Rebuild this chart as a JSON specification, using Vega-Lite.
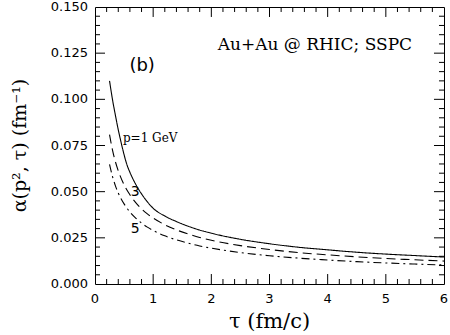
{
  "$schema": "https://vega.github.io/schema/vega-lite/v6.json",
  "width": 349,
  "height": 277,
  "autosize": {"type": "none"},
  "padding": {"left": 95, "top": 7, "right": 6, "bottom": 51},
  "background": "white",
  "config": {
    "view": {"stroke": "black", "strokeWidth": 1}
  },
  "datasets": {
    "curves": [
      {"p": "1", "tau": 0.25, "alpha": 0.110},
      {"p": "1", "tau": 0.30, "alpha": 0.100},
      {"p": "1", "tau": 0.35, "alpha": 0.0915},
      {"p": "1", "tau": 0.40, "alpha": 0.0835},
      {"p": "1", "tau": 0.45, "alpha": 0.0765},
      {"p": "1", "tau": 0.50, "alpha": 0.0700},
      {"p": "1", "tau": 0.55, "alpha": 0.0645},
      {"p": "1", "tau": 0.60, "alpha": 0.0605},
      {"p": "1", "tau": 0.70, "alpha": 0.0540},
      {"p": "1", "tau": 0.80, "alpha": 0.0488},
      {"p": "1", "tau": 0.90, "alpha": 0.0445},
      {"p": "1", "tau": 1.0, "alpha": 0.0410},
      {"p": "1", "tau": 1.2, "alpha": 0.0368},
      {"p": "1", "tau": 1.4, "alpha": 0.0338},
      {"p": "1", "tau": 1.6, "alpha": 0.0313},
      {"p": "1", "tau": 1.8, "alpha": 0.0292},
      {"p": "1", "tau": 2.0, "alpha": 0.0275},
      {"p": "1", "tau": 2.5, "alpha": 0.0242},
      {"p": "1", "tau": 3.0, "alpha": 0.0218},
      {"p": "1", "tau": 3.5, "alpha": 0.0199},
      {"p": "1", "tau": 4.0, "alpha": 0.0185},
      {"p": "1", "tau": 4.5, "alpha": 0.0172},
      {"p": "1", "tau": 5.0, "alpha": 0.0162},
      {"p": "1", "tau": 5.5, "alpha": 0.0154},
      {"p": "1", "tau": 6.0, "alpha": 0.0146},
      {"p": "3", "tau": 0.25, "alpha": 0.0809},
      {"p": "3", "tau": 0.30, "alpha": 0.0726},
      {"p": "3", "tau": 0.35, "alpha": 0.0663},
      {"p": "3", "tau": 0.40, "alpha": 0.0613},
      {"p": "3", "tau": 0.50, "alpha": 0.0537},
      {"p": "3", "tau": 0.60, "alpha": 0.0483},
      {"p": "3", "tau": 0.70, "alpha": 0.0441},
      {"p": "3", "tau": 0.80, "alpha": 0.0407},
      {"p": "3", "tau": 0.90, "alpha": 0.0380},
      {"p": "3", "tau": 1.0, "alpha": 0.0357},
      {"p": "3", "tau": 1.2, "alpha": 0.0321},
      {"p": "3", "tau": 1.4, "alpha": 0.0293},
      {"p": "3", "tau": 1.6, "alpha": 0.0271},
      {"p": "3", "tau": 1.8, "alpha": 0.0252},
      {"p": "3", "tau": 2.0, "alpha": 0.0237},
      {"p": "3", "tau": 2.5, "alpha": 0.0208},
      {"p": "3", "tau": 3.0, "alpha": 0.0187},
      {"p": "3", "tau": 3.5, "alpha": 0.0170},
      {"p": "3", "tau": 4.0, "alpha": 0.0158},
      {"p": "3", "tau": 4.5, "alpha": 0.0147},
      {"p": "3", "tau": 5.0, "alpha": 0.0138},
      {"p": "3", "tau": 5.5, "alpha": 0.0131},
      {"p": "3", "tau": 6.0, "alpha": 0.0124},
      {"p": "5", "tau": 0.25, "alpha": 0.0648},
      {"p": "5", "tau": 0.30, "alpha": 0.0583},
      {"p": "5", "tau": 0.35, "alpha": 0.0533},
      {"p": "5", "tau": 0.40, "alpha": 0.0493},
      {"p": "5", "tau": 0.50, "alpha": 0.0434},
      {"p": "5", "tau": 0.60, "alpha": 0.0390},
      {"p": "5", "tau": 0.70, "alpha": 0.0357},
      {"p": "5", "tau": 0.80, "alpha": 0.0330},
      {"p": "5", "tau": 0.90, "alpha": 0.0308},
      {"p": "5", "tau": 1.0, "alpha": 0.0290},
      {"p": "5", "tau": 1.2, "alpha": 0.0261},
      {"p": "5", "tau": 1.4, "alpha": 0.0239},
      {"p": "5", "tau": 1.6, "alpha": 0.0221},
      {"p": "5", "tau": 1.8, "alpha": 0.0206},
      {"p": "5", "tau": 2.0, "alpha": 0.0194},
      {"p": "5", "tau": 2.5, "alpha": 0.0170},
      {"p": "5", "tau": 3.0, "alpha": 0.0153},
      {"p": "5", "tau": 3.5, "alpha": 0.0140},
      {"p": "5", "tau": 4.0, "alpha": 0.0130},
      {"p": "5", "tau": 4.5, "alpha": 0.0121},
      {"p": "5", "tau": 5.0, "alpha": 0.0114},
      {"p": "5", "tau": 5.5, "alpha": 0.0108},
      {"p": "5", "tau": 6.0, "alpha": 0.0103}
    ],
    "xmajor": [{"t": 1}, {"t": 2}, {"t": 3}, {"t": 4}, {"t": 5}],
    "xminor": [{"t": 0.2}, {"t": 0.4}, {"t": 0.6}, {"t": 0.8}, {"t": 1.2}, {"t": 1.4}, {"t": 1.6}, {"t": 1.8}, {"t": 2.2}, {"t": 2.4}, {"t": 2.6}, {"t": 2.8}, {"t": 3.2}, {"t": 3.4}, {"t": 3.6}, {"t": 3.8}, {"t": 4.2}, {"t": 4.4}, {"t": 4.6}, {"t": 4.8}, {"t": 5.2}, {"t": 5.4}, {"t": 5.6}, {"t": 5.8}],
    "ymajor": [{"t": 0.025}, {"t": 0.05}, {"t": 0.075}, {"t": 0.1}, {"t": 0.125}],
    "yminor": [{"t": 0.005}, {"t": 0.01}, {"t": 0.015}, {"t": 0.02}, {"t": 0.03}, {"t": 0.035}, {"t": 0.04}, {"t": 0.045}, {"t": 0.055}, {"t": 0.06}, {"t": 0.065}, {"t": 0.07}, {"t": 0.08}, {"t": 0.085}, {"t": 0.09}, {"t": 0.095}, {"t": 0.105}, {"t": 0.11}, {"t": 0.115}, {"t": 0.12}, {"t": 0.13}, {"t": 0.135}, {"t": 0.14}, {"t": 0.145}],
    "xlabels": [{"label": "0", "tau": 0}, {"label": "1", "tau": 1}, {"label": "2", "tau": 2}, {"label": "3", "tau": 3}, {"label": "4", "tau": 4}, {"label": "5", "tau": 5}, {"label": "6", "tau": 6}],
    "ylabels": [{"label": "0.000", "alpha": 0}, {"label": "0.025", "alpha": 0.025}, {"label": "0.050", "alpha": 0.05}, {"label": "0.075", "alpha": 0.075}, {"label": "0.100", "alpha": 0.1}, {"label": "0.125", "alpha": 0.125}, {"label": "0.150", "alpha": 0.15}]
  },
  "layer": [
    {
      "data": {"name": "curves"},
      "mark": {"type": "line", "color": "black", "strokeWidth": 1.1, "interpolate": "monotone"},
      "encoding": {
        "x": {"field": "tau", "type": "quantitative", "scale": {"domain": [0, 6], "nice": false, "zero": false}, "axis": null},
        "y": {"field": "alpha", "type": "quantitative", "scale": {"domain": [0, 0.15], "nice": false, "zero": false}, "axis": null},
        "detail": {"field": "p"},
        "strokeDash": {
          "field": "p", "type": "nominal",
          "scale": {"domain": ["1", "3", "5"], "range": [[1, 0], [9, 5], [8, 4, 2, 4]]},
          "legend": null
        }
      }
    },
    {
      "data": {"name": "xmajor"},
      "mark": {"type": "rule", "color": "black", "strokeWidth": 1},
      "encoding": {"x": {"field": "t", "type": "quantitative", "axis": null}, "y": {"datum": 0, "axis": null}, "y2": {"datum": 0.0054}}
    },
    {
      "data": {"name": "xmajor"},
      "mark": {"type": "rule", "color": "black", "strokeWidth": 1},
      "encoding": {"x": {"field": "t", "type": "quantitative", "axis": null}, "y": {"datum": 0.15, "axis": null}, "y2": {"datum": 0.1446}}
    },
    {
      "data": {"name": "xminor"},
      "mark": {"type": "rule", "color": "black", "strokeWidth": 1},
      "encoding": {"x": {"field": "t", "type": "quantitative", "axis": null}, "y": {"datum": 0, "axis": null}, "y2": {"datum": 0.0027}}
    },
    {
      "data": {"name": "xminor"},
      "mark": {"type": "rule", "color": "black", "strokeWidth": 1},
      "encoding": {"x": {"field": "t", "type": "quantitative", "axis": null}, "y": {"datum": 0.15, "axis": null}, "y2": {"datum": 0.1473}}
    },
    {
      "data": {"name": "ymajor"},
      "mark": {"type": "rule", "color": "black", "strokeWidth": 1},
      "encoding": {"y": {"field": "t", "type": "quantitative", "axis": null}, "x": {"datum": 0, "axis": null}, "x2": {"datum": 0.172}}
    },
    {
      "data": {"name": "ymajor"},
      "mark": {"type": "rule", "color": "black", "strokeWidth": 1},
      "encoding": {"y": {"field": "t", "type": "quantitative", "axis": null}, "x": {"datum": 6, "axis": null}, "x2": {"datum": 5.828}}
    },
    {
      "data": {"name": "yminor"},
      "mark": {"type": "rule", "color": "black", "strokeWidth": 1},
      "encoding": {"y": {"field": "t", "type": "quantitative", "axis": null}, "x": {"datum": 0, "axis": null}, "x2": {"datum": 0.086}}
    },
    {
      "data": {"name": "yminor"},
      "mark": {"type": "rule", "color": "black", "strokeWidth": 1},
      "encoding": {"y": {"field": "t", "type": "quantitative", "axis": null}, "x": {"datum": 6, "axis": null}, "x2": {"datum": 5.914}}
    },
    {
      "data": {"name": "xlabels"},
      "mark": {"type": "text", "font": "DejaVu Sans", "fontSize": 13, "color": "black", "align": "center", "baseline": "middle"},
      "encoding": {
        "text": {"field": "label"},
        "x": {"field": "tau", "type": "quantitative", "axis": null},
        "y": {"datum": -0.0081, "axis": null}
      }
    },
    {
      "data": {"name": "ylabels"},
      "mark": {"type": "text", "font": "DejaVu Sans", "fontSize": 13, "color": "black", "align": "right", "baseline": "middle"},
      "encoding": {
        "text": {"field": "label"},
        "x": {"datum": -0.12, "axis": null},
        "y": {"field": "alpha", "type": "quantitative", "axis": null}
      }
    },
    {
      "data": {"values": [{"label": "τ (fm/c)", "tau": 3.0, "alpha": -0.0206}]},
      "mark": {"type": "text", "font": "DejaVu Serif", "fontSize": 21, "color": "black", "align": "center", "baseline": "middle"},
      "encoding": {
        "text": {"field": "label"},
        "x": {"field": "tau", "type": "quantitative", "axis": null},
        "y": {"field": "alpha", "type": "quantitative", "axis": null}
      }
    },
    {
      "data": {"values": [{"label": "α(p², τ)  (fm⁻¹)", "tau": -1.29, "alpha": 0.075}]},
      "mark": {"type": "text", "font": "DejaVu Serif", "fontSize": 19, "color": "black", "align": "center", "baseline": "middle", "angle": 270},
      "encoding": {
        "text": {"field": "label"},
        "x": {"field": "tau", "type": "quantitative", "axis": null},
        "y": {"field": "alpha", "type": "quantitative", "axis": null}
      }
    },
    {
      "data": {"values": [{"label": "Au+Au @ RHIC; SSPC", "tau": 3.78, "alpha": 0.1295}]},
      "mark": {"type": "text", "font": "DejaVu Serif", "fontSize": 17, "color": "black", "align": "center", "baseline": "middle"},
      "encoding": {
        "text": {"field": "label"},
        "x": {"field": "tau", "type": "quantitative", "axis": null},
        "y": {"field": "alpha", "type": "quantitative", "axis": null}
      }
    },
    {
      "data": {"values": [{"label": "p=1 GeV", "tau": 0.48, "alpha": 0.0793}]},
      "mark": {"type": "text", "font": "DejaVu Serif", "fontSize": 12, "color": "black", "align": "left", "baseline": "middle"},
      "encoding": {
        "text": {"field": "label"},
        "x": {"field": "tau", "type": "quantitative", "axis": null},
        "y": {"field": "alpha", "type": "quantitative", "axis": null}
      }
    },
    {
      "data": {"values": [{"label": "3", "tau": 0.69, "alpha": 0.0497}, {"label": "5", "tau": 0.69, "alpha": 0.0297}]},
      "mark": {"type": "text", "font": "DejaVu Sans", "fontSize": 14, "color": "black", "align": "center", "baseline": "middle"},
      "encoding": {
        "text": {"field": "label"},
        "x": {"field": "tau", "type": "quantitative", "axis": null},
        "y": {"field": "alpha", "type": "quantitative", "axis": null}
      }
    },
    {
      "data": {"values": [{"label": "(b)", "tau": 0.81, "alpha": 0.118}]},
      "mark": {"type": "text", "font": "DejaVu Sans", "fontSize": 18, "color": "black", "align": "center", "baseline": "middle"},
      "encoding": {
        "text": {"field": "label"},
        "x": {"field": "tau", "type": "quantitative", "axis": null},
        "y": {"field": "alpha", "type": "quantitative", "axis": null}
      }
    }
  ]
}
